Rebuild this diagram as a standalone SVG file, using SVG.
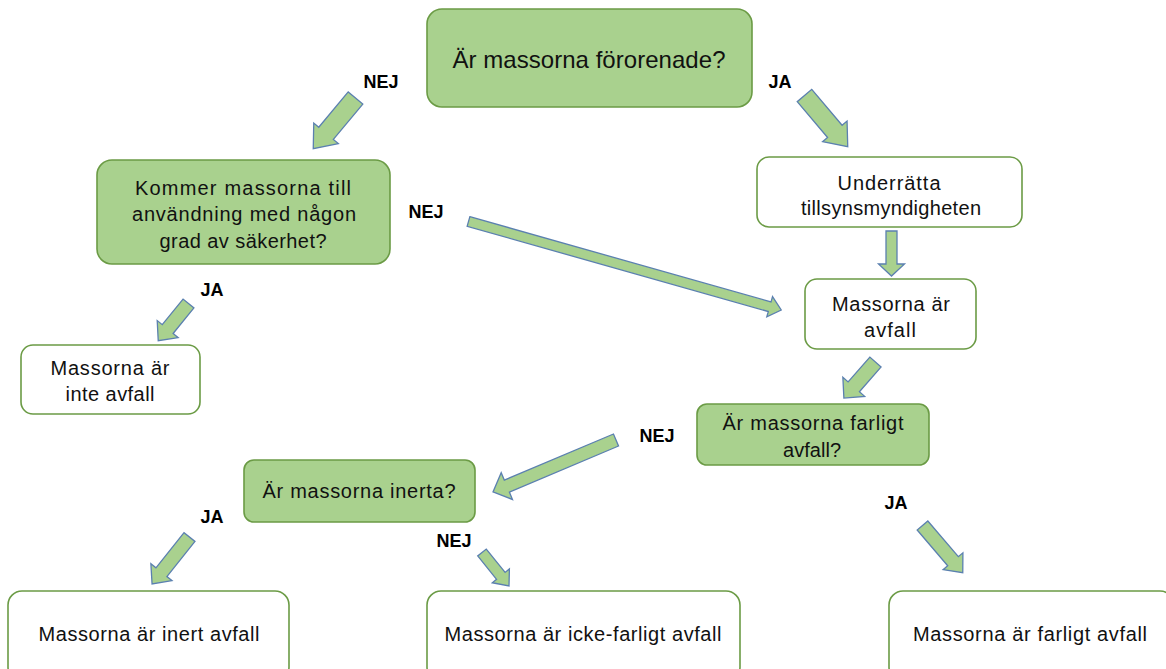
<svg xmlns="http://www.w3.org/2000/svg" width="1166" height="669" viewBox="0 0 1166 669">
  <style>
    .q { fill: #a9d18e; stroke: #6b9b45; stroke-width: 1.6; }
    .r { fill: #ffffff; stroke: #6b9b45; stroke-width: 1.6; }
    .t { font-family: "Liberation Sans", Arial, sans-serif; font-size: 20px; fill: #111; text-anchor: middle; }
    .big { font-size: 24px; }
    .lbl { font-family: "Liberation Sans", Arial, sans-serif; font-size: 18px; font-weight: bold; fill: #000; text-anchor: middle; }
    .arr { fill: #a9d18e; stroke: #5b80b0; stroke-width: 1.3; stroke-linejoin: miter; }
  </style>
  <rect width="1166" height="669" fill="#ffffff"/>

  <!-- connectors: block arrows, tail at origin, pointing along +x -->
  <g id="connectors">
    <path class="arr" transform="translate(355.5,98) rotate(129.8)" d="M0,-9.5 H46 V-16 L66,0 L46,16 V9.5 H0 Z"/>
    <path class="arr" transform="translate(804.5,95.5) rotate(49.8)" d="M0,-9.5 H47 V-16 L67,0 L47,16 V9.5 H0 Z"/>
    <path class="arr" transform="translate(468.5,221.5) rotate(15.8)" d="M0,-5 H313 V-10.5 L325,0 L313,10.5 V5 H0 Z"/>
    <path class="arr" transform="translate(891.5,231) rotate(90)" d="M0,-5.5 H33 V-13 L45,0 L33,13 V5.5 H0 Z"/>
    <path class="arr" transform="translate(875.5,362) rotate(131.2)" d="M0,-7.5 H33 V-14.5 L48,0 L33,14.5 V7.5 H0 Z"/>
    <path class="arr" transform="translate(188.5,303.5) rotate(129.1)" d="M0,-7 H33 V-13.5 L48,0 L33,13.5 V7 H0 Z"/>
    <path class="arr" transform="translate(616,440) rotate(157.1)" d="M0,-6.5 H118.5 V-14.5 L133.5,0 L118.5,14.5 V6.5 H0 Z"/>
    <path class="arr" transform="translate(189.5,537) rotate(128.6)" d="M0,-7 H45 V-13.5 L60,0 L45,13.5 V7 H0 Z"/>
    <path class="arr" transform="translate(482,552.5) rotate(51.1)" d="M0,-5.5 H30 V-11 L43,0 L30,11 V5.5 H0 Z"/>
    <path class="arr" transform="translate(922.5,525.5) rotate(49.5)" d="M0,-7 H47 V-13 L62,0 L47,13 V7 H0 Z"/>

    <text class="lbl" x="381" y="88">NEJ</text>
    <text class="lbl" x="780" y="88">JA</text>
    <text class="lbl" x="426" y="218">NEJ</text>
    <text class="lbl" x="212" y="296">JA</text>
    <text class="lbl" x="657" y="442">NEJ</text>
    <text class="lbl" x="212" y="523">JA</text>
    <text class="lbl" x="454" y="547">NEJ</text>
    <text class="lbl" x="896" y="509">JA</text>
  </g>

  <g id="n-fororenade">
    <rect class="q" x="427" y="9" width="325" height="98" rx="15"/>
    <text class="t big" x="589" y="68" textLength="273">Är massorna förorenade?</text>
  </g>

  <g id="n-anvandning">
    <rect class="q" x="97" y="160" width="293" height="104" rx="15"/>
    <text class="t" x="243" y="195" textLength="216">Kommer massorna till</text>
    <text class="t" x="244" y="221" textLength="224">användning med någon</text>
    <text class="t" x="243" y="248" textLength="167">grad av säkerhet?</text>
  </g>

  <g id="n-underratta">
    <rect class="r" x="757" y="157" width="265" height="70" rx="12"/>
    <text class="t" x="889" y="190" textLength="103">Underrätta</text>
    <text class="t" x="891" y="215" textLength="180">tillsynsmyndigheten</text>
  </g>

  <g id="n-avfall">
    <rect class="r" x="805" y="279" width="171" height="70" rx="12"/>
    <text class="t" x="891" y="311" textLength="118">Massorna är</text>
    <text class="t" x="890" y="337" textLength="52">avfall</text>
  </g>

  <g id="n-inte-avfall">
    <rect class="r" x="21" y="345" width="179" height="69" rx="12"/>
    <text class="t" x="110" y="375" textLength="119">Massorna är</text>
    <text class="t" x="110" y="401" textLength="89">inte avfall</text>
  </g>

  <g id="n-farligt-fraga">
    <rect class="q" x="697" y="404" width="232" height="61" rx="10"/>
    <text class="t" x="813" y="430" textLength="181">Är massorna farligt</text>
    <text class="t" x="812" y="457" textLength="58">avfall?</text>
  </g>

  <g id="n-inerta">
    <rect class="q" x="244" y="460" width="231" height="62" rx="10"/>
    <text class="t" x="359" y="498" textLength="193">Är massorna inerta?</text>
  </g>

  <g id="n-inert-avfall">
    <rect class="r" x="8" y="591" width="281" height="90" rx="14"/>
    <text class="t" x="149" y="641" textLength="221">Massorna är inert avfall</text>
  </g>

  <g id="n-icke-farligt">
    <rect class="r" x="427" y="591" width="313" height="90" rx="14"/>
    <text class="t" x="583" y="641" textLength="277">Massorna är icke-farligt avfall</text>
  </g>

  <g id="n-farligt">
    <rect class="r" x="889" y="591" width="285" height="90" rx="14"/>
    <text class="t" x="1030" y="641" textLength="234">Massorna är farligt avfall</text>
  </g>
</svg>
